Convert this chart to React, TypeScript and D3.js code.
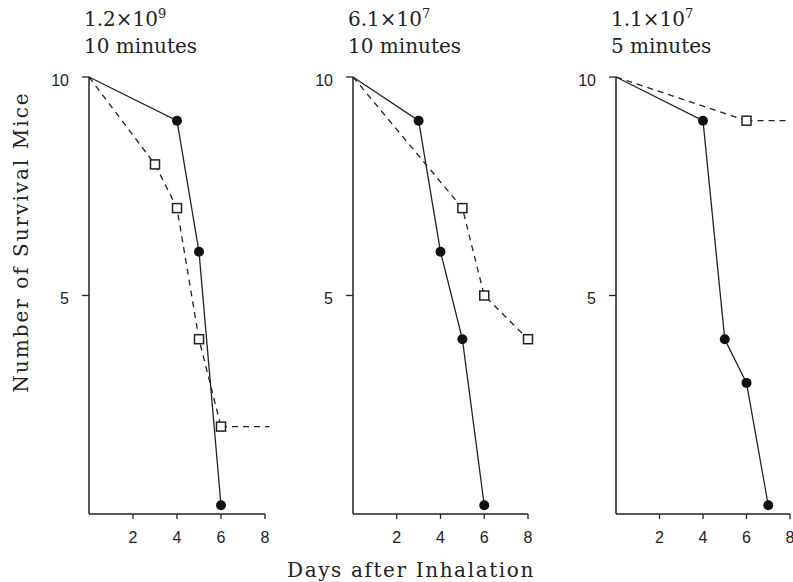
import * as d3 from "d3";

// days on x, survivors on y
const panelTitles = ["1.2×10", "6.1×10", "1.1×10"];
const panelExponents = ["9", "7", "7"];
const panelDurations = ["10 minutes", "10 minutes", "5 minutes"];

const solidDays = [
  [0, 4, 5, 6],
  [0, 3, 4, 5, 6],
  [0, 4, 5, 6, 7],
];
const solidMice = [
  [10, 9, 6, 0.2],
  [10, 9, 6, 4, 0.2],
  [10, 9, 4, 3, 0.2],
];

const dashedDays = [
  [0, 3, 4, 5, 6],
  [0, 5, 6, 8],
  [0, 6],
];
const dashedMice = [
  [10, 8, 7, 4, 2],
  [10, 7, 5, 4],
  [10, 9],
];
// dashed line keeps going past the last square (day it stops)
const dashedTailTo = [8.2, null, 8];

const xTicks = [2, 4, 6, 8];
const yTicks = [5, 10];

const panelLeft = [89, 353, 616];
const panelWidth = [176, 175, 174];

export default function App() {
  const width = 793;
  const height = 582;
  const top = 77;
  const bottom = 514;
  const serif = "'DejaVu Serif', serif";
  const sans = "'Liberation Sans', Arial, sans-serif";

  const y = d3.scaleLinear().domain([0, 10]).range([bottom, top]);

  return (
    <svg
      width={width}
      height={height}
      style={{ position: "absolute", left: 0, top: 0, background: "#fff" }}
    >
      {panelLeft.map((left, p) => {
        const x = d3.scaleLinear().domain([0, 8]).range([left, left + panelWidth[p]]);
        const solidPts = solidDays[p].map((d, i) => [x(d), y(solidMice[p][i])] as [number, number]);
        const dashPts = dashedDays[p].map((d, i) => [x(d), y(dashedMice[p][i])] as [number, number]);
        const line = d3.line();
        const tail = dashedTailTo[p];
        const last = dashPts[dashPts.length - 1];
        return (
          <g key={p}>
            {/* title */}
            <text x={left - 5} y={26} fontFamily={serif} fontSize={20} fill="#222">
              {panelTitles[p]}
              <tspan fontSize={13} dy={-8}>{panelExponents[p]}</tspan>
            </text>
            <text x={left - 5} y={53} fontFamily={serif} fontSize={20} fill="#222">
              {panelDurations[p]}
            </text>

            {/* axes */}
            <line x1={left} x2={left} y1={top} y2={bottom} stroke="#222" strokeWidth={1.5} />
            <line x1={left} x2={x(8)} y1={bottom} y2={bottom} stroke="#222" strokeWidth={1.5} />
            {yTicks.map((t) => (
              <g key={t}>
                <line x1={left - 7} x2={left} y1={y(t)} y2={y(t)} stroke="#222" strokeWidth={1.3} />
                <text
                  x={left - 20}
                  y={y(t) + 3}
                  dy="0.35em"
                  textAnchor="end"
                  fontFamily={sans}
                  fontSize={16}
                  fill="#222"
                >
                  {t}
                </text>
              </g>
            ))}
            {xTicks.map((t) => (
              <g key={t}>
                <line x1={x(t)} x2={x(t)} y1={bottom} y2={bottom + 5} stroke="#222" strokeWidth={1.3} />
                <text
                  x={x(t)}
                  y={543}
                  textAnchor="middle"
                  fontFamily={sans}
                  fontSize={16}
                  fill="#222"
                >
                  {t}
                </text>
              </g>
            ))}

            {/* dashed series */}
            <path
              d={line(dashPts) ?? ""}
              fill="none"
              stroke="#222"
              strokeWidth={1.3}
              strokeDasharray="6,5"
            />
            {tail !== null && (
              <line
                x1={last[0]}
                x2={x(tail)}
                y1={last[1]}
                y2={last[1]}
                stroke="#222"
                strokeWidth={1.3}
                strokeDasharray="6,5"
              />
            )}
            {/* solid series */}
            <path d={line(solidPts) ?? ""} fill="none" stroke="#222" strokeWidth={1.3} />

            {dashPts.slice(1).map(([cx, cy], i) => (
              <rect
                key={i}
                x={cx - 4.5}
                y={cy - 4.5}
                width={9}
                height={9}
                fill="#fff"
                stroke="#222"
                strokeWidth={1.5}
              />
            ))}
            {solidPts.slice(1).map(([cx, cy], i) => (
              <circle key={i} cx={cx} cy={cy} r={5} fill="#111" />
            ))}
          </g>
        );
      })}

      {/* axis titles */}
      <text
        transform="translate(28,242) rotate(-90)"
        textAnchor="middle"
        fontFamily={serif}
        fontSize={20}
        letterSpacing={2}
        fill="#222"
      >
        Number of Survival Mice
      </text>
      <text
        x={411}
        y={577}
        textAnchor="middle"
        fontFamily={serif}
        fontSize={20}
        letterSpacing={1.6}
        fill="#222"
      >
        Days after Inhalation
      </text>
    </svg>
  );
}
